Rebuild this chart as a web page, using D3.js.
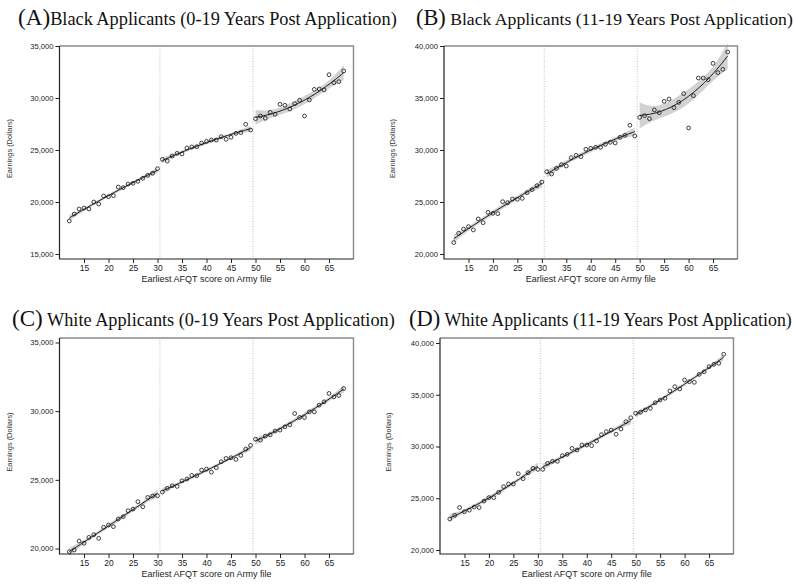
<!DOCTYPE html>
<html>
<head>
<meta charset="utf-8">
<script src="https://cdn.jsdelivr.net/npm/d3@7"></script>
<style>
  body { margin: 0; background: #fff; }
  svg { display: block; }
</style>
</head>
<body>
<svg id="chart" width="795" height="588"></svg>
<script>
// AFQT score (x) for every bin
const afqt = [12, 13, 14, 15, 16, 17, 18, 19, 20, 21, 22, 23, 24, 25, 26, 27, 28, 29, 30,
  31, 32, 33, 34, 35, 36, 37, 38, 39, 40, 41, 42, 43, 44, 45, 46, 47, 48, 49,
  50, 51, 52, 53, 54, 55, 56, 57, 58, 59, 60, 61, 62, 63, 64, 65, 66, 67, 68];

// mean earnings per bin
const blackAll = [18170, 18850, 19330, 19420, 19330, 20000, 19810, 20580, 20510, 20610,
  21440, 21380, 21730, 21800, 21990, 22280, 22560, 22760, 23200,
  24100, 23940, 24420, 24680, 24620, 25190, 25290, 25320, 25670, 25830,
  25960, 25960, 26280, 26030, 26220, 26600, 26670, 27470, 26920,
  28010, 28270, 28050, 28620, 28430, 29390, 29300, 28940, 29460, 29780,
  28270, 29810, 30830, 30870, 30770, 32240, 31470, 31570, 32600];

const black1119 = [21100, 22000, 22400, 22630, 22310, 23370, 23010, 24010, 23910, 23880,
  25030, 24940, 25290, 25260, 25350, 25900, 26190, 26570, 26920,
  27920, 27690, 28240, 28590, 28460, 29260, 29490, 29360, 30070, 30160,
  30260, 30260, 30550, 30740, 30680, 31220, 31410, 32380, 31350,
  33140, 33300, 33010, 33850, 33590, 34680, 34900, 34070, 34580, 35420,
  32120, 35220, 36920, 36920, 36760, 38330, 37440, 37760, 39420];

const whiteAll = [19770, 19890, 20540, 20380, 20810, 21010, 20740, 21540, 21710, 21590,
  22150, 22320, 22750, 22870, 23410, 23040, 23720, 23820, 23840,
  24110, 24380, 24570, 24520, 24930, 25060, 25320, 25300, 25710, 25780,
  25560, 25880, 26320, 26560, 26610, 26490, 26780, 27240, 27510,
  27960, 27890, 28180, 28280, 28550, 28620, 28860, 29010, 29830, 29540,
  29540, 29950, 29950, 30440, 30680, 31290, 31040, 31140, 31650];

const white1119 = [23000, 23350, 24100, 23700, 23850, 24150, 24100, 24730, 25060, 25060,
  25570, 26120, 26380, 26380, 27370, 26890, 27470, 27890, 27790,
  27790, 28370, 28570, 28570, 29110, 29240, 29820, 29660, 30140, 30140,
  30080, 30530, 31140, 31430, 31590, 31180, 31690, 32400, 32780,
  33210, 33310, 33530, 33690, 34230, 34490, 34660, 35360, 35780, 35560,
  36430, 36260, 36200, 36970, 37220, 37710, 37940, 38040, 38910];

// eligibility thresholds and the score ranges fitted separately
const cutoffs = [30.5, 49.5];
const segments = [[12, 30], [31, 49], [50, 68]];

const xTicks = [15, 20, 25, 30, 35, 40, 45, 50, 55, 60, 65];
const yTicksA = [15000, 20000, 25000, 30000, 35000];
const yTicksB = [20000, 25000, 30000, 35000, 40000];
const yTicksC = [20000, 25000, 30000, 35000];
const yTicksD = [20000, 25000, 30000, 35000, 40000];

const xTitle = "Earliest AFQT score on Army file";
const yTitle = "Earnings (Dollars)";

const sans = "Liberation Sans, Arial, Helvetica, sans-serif";
const serif = "Liberation Serif, Times New Roman, serif";

const panels = [
  { label: "(A)", title: "Black Applicants (0-19 Years Post Application)", gap: "",
    values: blackAll, yTicks: yTicksA,
    left: 59.5, right: 353.5, top: 46, bottom: 259, yPx: [254, 46],
    titleX: [18, 397], titleY: 25, yLabelX: 12 },
  { label: "(B)", title: "Black Applicants (11-19 Years Post Application)", gap: " ",
    values: black1119, yTicks: yTicksB,
    left: 444, right: 737.5, top: 46, bottom: 259, yPx: [254, 46],
    titleX: [416, 793], titleY: 25, yLabelX: 395 },
  { label: "(C)", title: "White Applicants (0-19 Years Post Application)", gap: " ",
    values: whiteAll, yTicks: yTicksC,
    left: 59.5, right: 353.5, top: 338, bottom: 554, yPx: [548.5, 342.5],
    titleX: [12, 395], titleY: 326, yLabelX: 12 },
  { label: "(D)", title: "White Applicants (11-19 Years Post Application)", gap: " ",
    values: white1119, yTicks: yTicksD,
    left: 440, right: 733.5, top: 338, bottom: 554, yPx: [550, 343],
    titleX: [409, 792], titleY: 326, yLabelX: 391 }
];

// 3x3 matrix inverse
function invert3(m) {
  const [a, b, c] = m[0], [d, e, f] = m[1], [g, h, i] = m[2];
  const A = e * i - f * h, B = -(d * i - f * g), C = d * h - e * g;
  const det = a * A + b * B + c * C;
  return [
    [A / det, -(b * i - c * h) / det, (b * f - c * e) / det],
    [B / det, (a * i - c * g) / det, -(a * f - c * d) / det],
    [C / det, -(a * h - b * g) / det, (a * e - b * d) / det]
  ];
}

// quadratic least squares with standard error of the fitted mean
function quadFit(xs, ys) {
  const n = xs.length, xm = d3.mean(xs);
  const row = x => [1, x - xm, (x - xm) * (x - xm)];
  const XtX = [[0, 0, 0], [0, 0, 0], [0, 0, 0]], Xty = [0, 0, 0];
  xs.forEach((x, k) => {
    const r = row(x);
    for (let i = 0; i < 3; i++) {
      Xty[i] += r[i] * ys[k];
      for (let j = 0; j < 3; j++) XtX[i][j] += r[i] * r[j];
    }
  });
  const inv = invert3(XtX);
  const beta = inv.map(rw => rw[0] * Xty[0] + rw[1] * Xty[1] + rw[2] * Xty[2]);
  const pred = x => { const r = row(x); return beta[0] * r[0] + beta[1] * r[1] + beta[2] * r[2]; };
  const s2 = d3.sum(xs, (x, k) => (ys[k] - pred(x)) ** 2) / (n - 3);
  const t = 2.12;
  return x => {
    const r = row(x);
    let q = 0;
    for (let i = 0; i < 3; i++) for (let j = 0; j < 3; j++) q += r[i] * inv[i][j] * r[j];
    const se = Math.sqrt(s2 * q), y = pred(x);
    return { x: x, y: y, lo: y - t * se, hi: y + t * se };
  };
}

const svg = d3.select("#chart");

panels.forEach(p => {
  const x = d3.scaleLinear().domain([10, 70]).range([p.left, p.right]);
  const y = d3.scaleLinear().domain([p.yTicks[0], p.yTicks[p.yTicks.length - 1]]).range(p.yPx);
  const g = svg.append("g");

  // title: big panel letter + text, sized to its span
  const base = 17, big = 21.5;
  const t = g.append("text")
    .attr("x", p.titleX[0]).attr("y", p.titleY)
    .attr("font-family", serif).attr("font-size", base).attr("fill", "#111");
  const t1 = t.append("tspan").attr("font-size", big).text(p.label);
  t.append("tspan").text(p.gap + p.title);
  const k = (p.titleX[1] - p.titleX[0]) / t.node().getComputedTextLength();
  t.attr("font-size", base * k);
  t1.attr("font-size", big * k);

  // cutoff lines
  g.selectAll(".cut").data(cutoffs).join("line")
    .attr("x1", d => x(d)).attr("x2", d => x(d))
    .attr("y1", p.top).attr("y2", p.bottom)
    .attr("stroke", "#b0b0b0").attr("stroke-width", 0.8)
    .attr("stroke-dasharray", "1,1.5");

  const pts = afqt.map((a, i) => ({ x: a, y: p.values[i] }));

  segments.forEach(s => {
    const sub = pts.filter(d => d.x >= s[0] && d.x <= s[1]);
    const fit = quadFit(sub.map(d => d.x), sub.map(d => d.y));
    const grid = [];
    for (let v = s[0]; v <= s[1] + 1e-9; v += 0.25) grid.push(fit(v));
    g.append("path").datum(grid)
      .attr("d", d3.area().x(d => x(d.x)).y0(d => y(d.lo)).y1(d => y(d.hi)).curve(d3.curveBasis))
      .attr("fill", "#cdcdcd").attr("opacity", 0.9);
    g.append("path").datum(grid)
      .attr("d", d3.line().x(d => x(d.x)).y(d => y(d.y)).curve(d3.curveBasis))
      .attr("fill", "none").attr("stroke", "#111").attr("stroke-width", 1);
  });

  g.selectAll(".pt").data(pts).join("circle")
    .attr("cx", d => x(d.x)).attr("cy", d => y(d.y)).attr("r", 1.9)
    .attr("fill", "none").attr("stroke", "#111").attr("stroke-width", 0.8);

  // frame: grey top/right, dark axes left/bottom
  g.append("path")
    .attr("d", `M${p.left},${p.top}H${p.right}V${p.bottom}`)
    .attr("fill", "none").attr("stroke", "#8a8a8a").attr("stroke-width", 1.4);
  g.append("path")
    .attr("d", `M${p.left},${p.top}V${p.bottom}H${p.right}`)
    .attr("fill", "none").attr("stroke", "#222").attr("stroke-width", 1.2);

  const gy = g.append("g")
    .attr("transform", `translate(${p.left},0)`)
    .call(d3.axisLeft(y).tickValues(p.yTicks).tickFormat(d3.format(",")).tickSize(4).tickPadding(2));
  gy.select(".domain").remove();
  gy.attr("font-family", sans).attr("font-size", 7.6).attr("color", "#222");

  const gx = g.append("g")
    .attr("transform", `translate(0,${p.bottom})`)
    .call(d3.axisBottom(x).tickValues(xTicks).tickSize(4).tickPadding(1.5));
  gx.select(".domain").remove();
  gx.attr("font-family", sans).attr("font-size", 8.5).attr("color", "#222");

  g.append("text")
    .attr("x", (p.left + p.right) / 2).attr("y", p.bottom + 23)
    .attr("text-anchor", "middle").attr("font-family", sans).attr("font-size", 9)
    .attr("fill", "#222").text(xTitle);

  g.append("text")
    .attr("transform", `translate(${p.yLabelX},${(p.top + p.bottom) / 2 - 4}) rotate(-90)`)
    .attr("text-anchor", "middle").attr("font-family", sans).attr("font-size", 7.4)
    .attr("fill", "#333").text(yTitle);
});
</script>
</body>
</html>
